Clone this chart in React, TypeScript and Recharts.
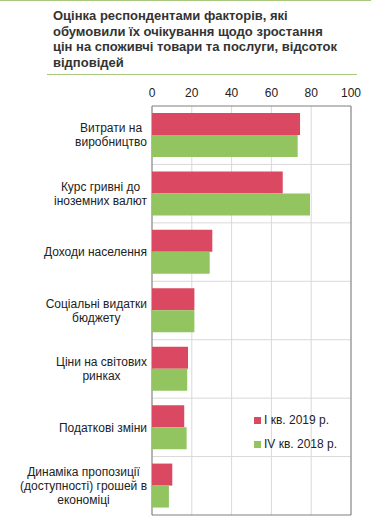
import React from "react";
import { BarChart, Bar, XAxis, YAxis, CartesianGrid, Legend, ReferenceArea } from "recharts";

const categories = [
  "Витрати на\nвиробництво",
  "Курс гривні до\nіноземних валют",
  "Доходи населення",
  "Соціальні видатки\nбюджету",
  "Ціни на світових\nринках",
  "Податкові зміни",
  "Динаміка пропозиції\n(доступності) грошей в\nекономіці",
];
const q1_2019 = [74.4, 65.7, 30.3, 21.3, 18.1, 16.2, 10.2];
const q4_2018 = [73.2, 79.4, 29.0, 21.3, 17.7, 17.4, 8.5];
const xTicks = [0, 20, 40, 60, 80, 100];

const RED = "#DB4862";
const GREEN = "#92C560";
const FONT = "'Liberation Sans', Arial, sans-serif";

const data = categories.map((name, i) => ({ name, q1: q1_2019[i], q4: q4_2018[i] }));

let ctx: CanvasRenderingContext2D | null = null;
function measure(s: string) {
  if (!ctx) ctx = document.createElement("canvas").getContext("2d");
  if (!ctx) return s.length * 6.4;
  ctx.font = "12px 'Liberation Sans'";
  return ctx.measureText(s).width;
}

function CategoryTick(props: any) {
  const { x, y, payload } = props;
  const lines: string[] = String(payload.value).split("\n");
  const w = Math.max(...lines.map(measure));
  const cx = x - w / 2;
  const lh = 14;
  const y0 = y - ((lines.length - 1) * lh) / 2;
  return (
    <text textAnchor="middle" fontSize={12} fill="#222" fontFamily={FONT}>
      {lines.map((l, i) => (
        <tspan key={i} x={cx} y={y0 + i * lh} dy="0.35em">
          {l}
        </tspan>
      ))}
    </text>
  );
}

function LegendBox(props: any) {
  const items = props.payload || [];
  return (
    <div style={{ fontFamily: FONT, fontSize: 12, color: "#222" }}>
      {items.map((it: any) => (
        <div key={it.value} style={{ height: 24, lineHeight: "24px", display: "flex", alignItems: "center" }}>
          <span
            style={{
              width: 7,
              height: 7,
              flexShrink: 0,
              background: it.color || (it.payload && it.payload.fill),
              display: "inline-block",
              marginRight: 3,
            }}
          />
          <span>{it.value}</span>
        </div>
      ))}
    </div>
  );
}

export default function App() {
  return (
    <div style={{ position: "absolute", left: 0, top: 0, width: 371, height: 523, background: "#fff", fontFamily: FONT }}>
      <div style={{ position: "absolute", left: 0, top: 0, width: 371, height: 1, background: "#A8C77E" }} />
      <div
        style={{
          position: "absolute",
          left: 53,
          top: 8,
          width: 290,
          fontSize: 13,
          fontWeight: "bold",
          lineHeight: "15.7px",
          color: "#333",
        }}
      >
        Оцінка респондентами факторів, які обумовили їх очікування щодо зростання цін на споживчі товари та послуги, відсоток відповідей
      </div>
      <div style={{ position: "absolute", left: 47, top: 74, width: 310, height: 1, background: "#A8C77E" }} />
      <div style={{ position: "absolute", left: 0, top: 0 }}>
        <BarChart
          width={371}
          height={523}
          data={data}
          layout="vertical"
          margin={{ top: 76, right: 20, bottom: 8, left: 0 }}
          barSize={22}
          barGap={0}
        >
          <CartesianGrid
            stroke="#D9D9D9"
            horizontalCoordinatesGenerator={({ offset }: any) =>
              categories.slice(1).map((_, i) => offset.top + ((i + 1) * offset.height) / categories.length)
            }
          />
          <XAxis
            type="number"
            orientation="top"
            domain={[0, 100]}
            ticks={xTicks}
            height={30}
            tickSize={0}
            tickMargin={9}
            axisLine={false}
            tick={{ fontSize: 12, fill: "#222", fontFamily: FONT }}
          />
          <YAxis
            type="category"
            dataKey="name"
            width={152}
            tickSize={0}
            tickMargin={5}
            axisLine={false}
            tickLine={false}
            tick={<CategoryTick />}
            interval={0}
          />
          <ReferenceArea x1={0} x2={100} fill="none" stroke="#7F7F7F" strokeWidth={1} ifOverflow="extendDomain" />
          <Bar dataKey="q1" name="I кв. 2019 р." fill={RED} isAnimationActive={false} />
          <Bar dataKey="q4" name="IV кв. 2018 р." fill={GREEN} isAnimationActive={false} />
          <Legend
            layout="vertical"
            verticalAlign="middle"
            align="center"
            wrapperStyle={{ left: 254, top: 408, width: 100 }}
            content={<LegendBox />}
          />
        </BarChart>
      </div>
    </div>
  );
}
